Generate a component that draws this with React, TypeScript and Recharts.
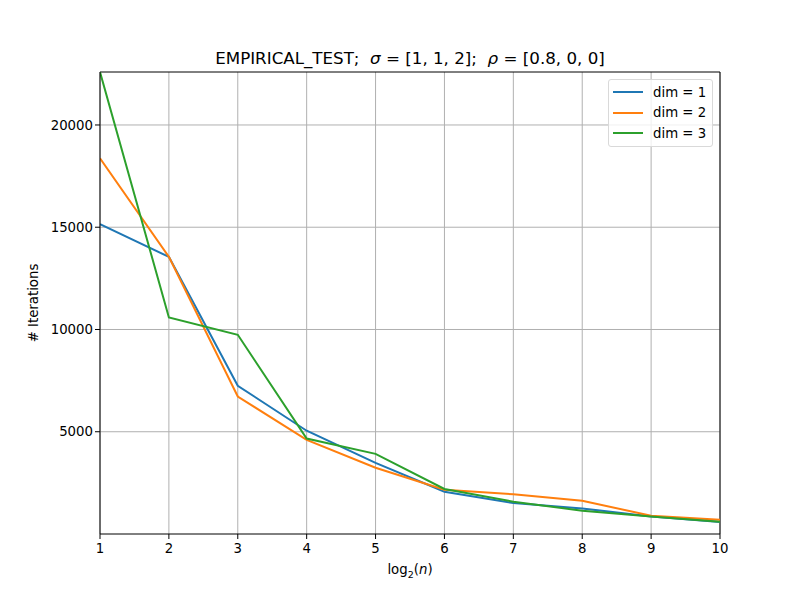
import React from "react";
import { LineChart, Line, XAxis, YAxis, CartesianGrid, ReferenceLine } from "recharts";

const logN = [1, 2, 3, 4, 5, 6, 7, 8, 9, 10];
const dim1 = [15150, 13550, 7250, 5050, 3480, 2070, 1510, 1250, 860, 590];
const dim2 = [18370, 13550, 6720, 4600, 3240, 2160, 1940, 1630, 890, 700];
const dim3 = [22590, 10590, 9740, 4670, 3920, 2200, 1580, 1140, 860, 600];
const xTicks = [1, 2, 3, 4, 5, 6, 7, 8, 9, 10];
const yTicks = [5000, 10000, 15000, 20000];
const yMax = 22590;

const seriesNames = ["dim = 1", "dim = 2", "dim = 3"];
const colors = ["#1f77b4", "#ff7f0e", "#2ca02c"];

const data = logN.map((x, i) => ({ x, d1: dim1[i], d2: dim2[i], d3: dim3[i] }));

const FONT = "'DejaVu Sans', sans-serif";

const LegendBox = () => (
  <div
    style={{
      position: "absolute",
      left: 608,
      top: 79,
      border: "1px solid #d9d9d9",
      borderRadius: 3,
      background: "rgba(255,255,255,0.8)",
      padding: "2px 6px 2px 4px",
      fontFamily: FONT,
      fontSize: 13.3,
      color: "#000",
    }}
  >
    {seriesNames.map((n, i) => (
      <div key={n} style={{ display: "flex", alignItems: "center", height: 20.5 }}>
        <div style={{ width: 30, height: 2, background: colors[i], marginRight: 10 }} />
        <span>{n}</span>
      </div>
    ))}
  </div>
);

export default function App() {
  return (
    <div style={{ position: "absolute", left: 0, top: 0, width: 800, height: 600, background: "#fff", fontFamily: FONT }}>
      <LineChart width={800} height={600} data={data} margin={{ top: 72, right: 80, bottom: 36, left: 0 }}>
        <CartesianGrid stroke="#b0b0b0" strokeWidth={1} horizontalValues={yTicks} verticalValues={xTicks} />
        <XAxis
          dataKey="x"
          type="number"
          domain={[1, 10]}
          ticks={xTicks}
          height={30}
          allowDataOverflow
          stroke="#000"
          tickSize={5}
          tick={{ fill: "#000", fontSize: 13.3, fontFamily: FONT, dy: 3 }}
          tickLine={{ stroke: "#000" }}
        />
        <YAxis
          type="number"
          domain={[0, yMax]}
          ticks={yTicks}
          width={100}
          allowDataOverflow
          stroke="#000"
          tickSize={5}
          tick={{ fill: "#000", fontSize: 13.3, fontFamily: FONT }}
          tickLine={{ stroke: "#000" }}
        />
        <ReferenceLine y={yMax} stroke="#000" strokeWidth={1} ifOverflow="visible" />
        <ReferenceLine x={10} stroke="#000" strokeWidth={1} ifOverflow="visible" />
        <Line type="linear" dataKey="d1" name={seriesNames[0]} stroke={colors[0]} strokeWidth={2} dot={false} isAnimationActive={false} />
        <Line type="linear" dataKey="d2" name={seriesNames[1]} stroke={colors[1]} strokeWidth={2} dot={false} isAnimationActive={false} />
        <Line type="linear" dataKey="d3" name={seriesNames[2]} stroke={colors[2]} strokeWidth={2} dot={false} isAnimationActive={false} />
      </LineChart>
      <LegendBox />
      <div style={{ position: "absolute", left: 0, width: 820, top: 48, textAlign: "center", fontSize: 16.7, color: "#000", whiteSpace: "pre" }}>
        {"EMPIRICAL_TEST;  "}<i>σ</i>{" = [1, 1, 2];  "}<i>ρ</i>{" = [0.8, 0, 0]"}
      </div>
      <div style={{ position: "absolute", left: 0, width: 820, top: 562, textAlign: "center", fontSize: 13.3, color: "#000" }}>
        log<sub style={{ fontSize: 9.5 }}>2</sub>(<i>n</i>)
      </div>
      <div
        style={{
          position: "absolute",
          left: 33,
          top: 303,
          transform: "translate(-50%, -50%) rotate(-90deg)",
          fontSize: 13.3,
          color: "#000",
          whiteSpace: "nowrap",
        }}
      >
        # Iterations
      </div>
    </div>
  );
}
